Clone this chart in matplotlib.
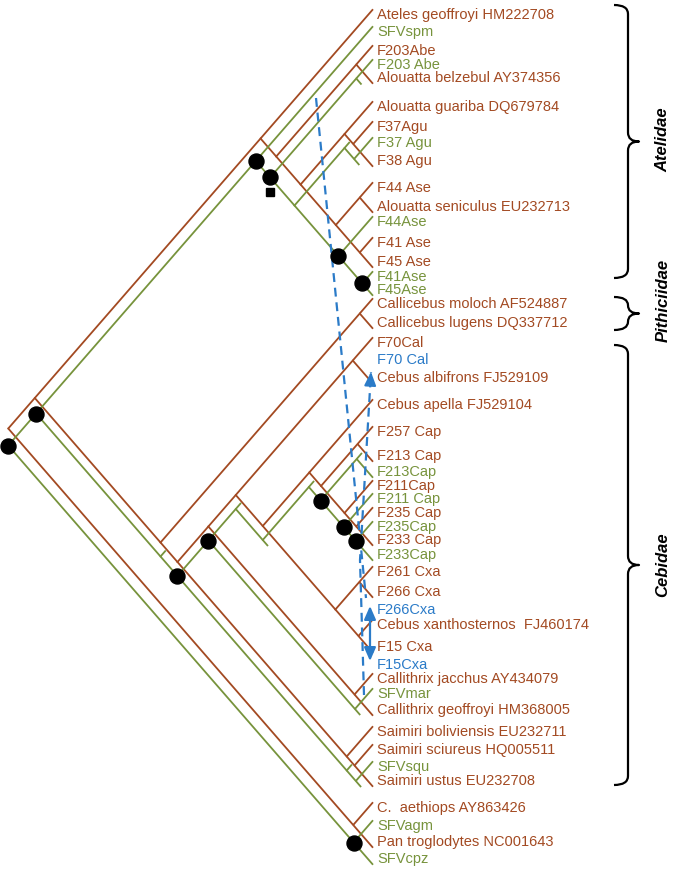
import matplotlib
matplotlib.use("Agg")
import matplotlib.pyplot as plt
from matplotlib.path import Path
from matplotlib.patches import PathPatch
from matplotlib import transforms
import numpy as np

plt.rcParams["font.family"] = ["Liberation Sans", "DejaVu Sans"]

# ---------------- data (rows, px from top) ----------------
host_labels = [
    "Ateles geoffroyi HM222708", "F203Abe", "Alouatta belzebul AY374356",
    "Alouatta guariba DQ679784", "F37Agu", "F38 Agu", "F44 Ase",
    "Alouatta seniculus EU232713", "F41 Ase", "F45 Ase",
    "Callicebus moloch AF524887", "Callicebus lugens DQ337712",
    "F70Cal", "Cebus albifrons FJ529109", "Cebus apella FJ529104",
    "F257 Cap", "F213 Cap", "F211Cap", "F235 Cap", "F233 Cap",
    "F261 Cxa", "F266 Cxa", "Cebus xanthosternos  FJ460174", "F15 Cxa",
    "Callithrix jacchus AY434079", "Callithrix geoffroyi HM368005",
    "Saimiri boliviensis EU232711", "Saimiri sciureus HQ005511",
    "Saimiri ustus EU232708", "C.  aethiops AY863426", "Pan troglodytes NC001643"]
host_rows = [15, 51, 78, 107, 127, 161, 188, 207, 243, 262,
             304, 323, 343, 378, 405, 432, 456, 486, 513, 540,
             572, 592, 625, 647, 679, 710, 732, 750, 781, 808, 842]

virus_labels = ["SFVspm", "F203 Abe", "F37 Agu", "F44Ase", "F41Ase", "F45Ase",
                "F213Cap", "F211 Cap", "F235Cap", "F233Cap", "SFVmar", "SFVsqu",
                "SFVagm", "SFVcpz"]
virus_rows = [32, 65, 143, 222, 277, 290, 472, 499, 527, 555, 694, 767, 826, 859]

recomb_labels = ["F70 Cal", "F266Cxa", "F15Cxa"]
recomb_rows = [360, 610, 665]

family_names = ["Atelidae", "Pithiciidae", "Cebidae"]
family_spans = [(5, 278), (297, 330), (345, 785)]
family_label_rows = [140, 300, 565]

(ATE, F203B, ABEL, AGUA, F37B, F38B, F44B, ASEN, F41B, F45B, CMOL, CLUG,
 F70B, CALB, CAPE, F257B, F213B, F211B, F235B, F233B, F261B, F266B, CXAN,
 F15B, CJAC, CGEO, SBOL, SSCI, SUST, CAET, PAN) = host_labels
(SPM, F203G, F37G, F44G, F41G, F45G, F213G, F211G, F235G, F233G,
 MAR, SQU, AGM, CPZ) = virus_labels


def stub(name):
    return "~" + name


host_tree = (
    ((ATE, ((F203B, ABEL), ((AGUA, (F37B, F38B)), ((F44B, ASEN), (F41B, F45B))))),
     ((CMOL, CLUG),
      ((((F70B, CALB),
         ((CAPE, ((F257B, F213B), (F211B, (F235B, F233B)))),
          ((F261B, F266B), (CXAN, F15B)))),
        (CJAC, CGEO)),
       (SBOL, (SSCI, SUST))))),
    (CAET, PAN))

virus_tree = (
    ((SPM, ((F203G, stub(ABEL)), ((stub(AGUA), (F37G, stub(F38B))), (F44G, (F41G, F45G))))),
     (stub(CMOL),
      (((stub(F70B),
         ((stub(CAPE), ((stub(F257B), F213G), (F211G, (F235G, F233G)))), stub(F15B))),
        (MAR, stub(CGEO))),
       (stub(SBOL), (SQU, stub(SUST)))))),
    (AGM, CPZ))

# virus nodes marked with a black dot (identified by first/last leaf)
dot_nodes = [(SPM, CPZ), (SPM, stub(SUST)), (SPM, F45G), (F203G, F45G),
             (F44G, F45G), (F41G, F45G), (stub(F70B), stub(SUST)),
             (stub(F70B), stub(CGEO)), (stub(F257B), F233G), (F211G, F233G),
             (F235G, F233G), (AGM, CPZ)]
square_node = (F203G, F45G)

# recombination annotations (dashed blue)
recomb_line_a = [(316, 98), (366, 598)]
recomb_line_b = [(364, 695), (360, 560), (371, 372)]
recomb_double = [(370, 606), (370, 661)]

# ---------------- style ----------------
BROWN = "#A34A22"
GREEN = "#77933C"
BLUE = "#2B7BC8"
LEAF_X = 368.0
SLOPE = 0.87
TIP_X = 373.0
STUB_SHIFT = 14
STUB_LEN = 8
LW = 1.3

host_y = dict(zip(host_labels, host_rows))
virus_y = dict(zip(virus_labels, virus_rows))


def host_pos(name):
    return host_y[name]


def virus_pos(name):
    if name.startswith("~"):
        return host_y[name[1:]] + STUB_SHIFT
    return virus_y[name]


def leaves(t):
    return [t] if isinstance(t, str) else leaves(t[0]) + leaves(t[1])


def node_xy(t, ypos):
    ys = [ypos(l) for l in leaves(t)]
    top, bot = min(ys), max(ys)
    return LEAF_X - SLOPE * (bot - top) / 2.0, (top + bot) / 2.0


def draw_tree(ax, t, ypos, color, nodes):
    px, py = node_xy(t, ypos)
    lv = leaves(t)
    nodes[(lv[0], lv[-1])] = (px, py)
    for c in t:
        cx, cy = node_xy(c, ypos)
        if isinstance(c, str):
            if c.startswith("~"):
                d = np.array([cx - px, cy - py])
                d = d / np.hypot(*d) * STUB_LEN
                ex, ey = px + d[0], py + d[1]
            else:
                f = (TIP_X - px) / (cx - px)
                ex, ey = px + (cx - px) * f, py + (cy - py) * f
            ax.plot([px, ex], [py, ey], color=color, lw=LW,
                    solid_capstyle="butt", zorder=2)
        else:
            ax.plot([px, cx], [py, cy], color=color, lw=LW,
                    solid_capstyle="round", zorder=2)
            draw_tree(ax, c, ypos, color, nodes)


def brace(ax, y0, y1, xb=628, hook=14, tip=11):
    r = min(9, (y1 - y0) / 4.0)
    ym = (y0 + y1) / 2.0
    verts = [(xb - hook, y0), (xb, y0), (xb, y0 + r),
             (xb, ym - r), (xb, ym), (xb + tip, ym),
             (xb, ym), (xb, ym + r),
             (xb, y1 - r), (xb, y1), (xb - hook, y1)]
    codes = [Path.MOVETO, Path.CURVE3, Path.CURVE3, Path.LINETO,
             Path.CURVE3, Path.CURVE3, Path.CURVE3, Path.CURVE3,
             Path.LINETO, Path.CURVE3, Path.CURVE3]
    ax.add_patch(PathPatch(Path(verts, codes), fill=False, lw=1.6,
                           edgecolor="black", joinstyle="round"))


fig = plt.figure(figsize=(6.81, 8.71), dpi=100)
ax = fig.add_axes([0, 0, 1, 1])
ax.set_xlim(0, 681)
ax.set_ylim(871, 0)
ax.axis("off")

host_nodes, virus_nodes = {}, {}
draw_tree(ax, host_tree, host_pos, BROWN, host_nodes)
draw_tree(ax, virus_tree, virus_pos, GREEN, virus_nodes)

for key in dot_nodes:
    x, y = virus_nodes[key]
    ax.plot(x, y, "o", color="black", ms=10.8, zorder=6)
sq_tr = transforms.offset_copy(ax.transData, fig=fig, x=0, y=-15, units="dots")
sx, sy = virus_nodes[square_node]
ax.plot(sx, sy, "s", color="black", ms=5.5, transform=sq_tr, zorder=6)

FS = 10.5
for lab, y in zip(host_labels, host_rows):
    ax.text(377, y, lab, color=BROWN, fontsize=FS, va="center", ha="left")
for lab, y in zip(virus_labels, virus_rows):
    ax.text(377, y, lab, color=GREEN, fontsize=FS, va="center", ha="left")
for lab, y in zip(recomb_labels, recomb_rows):
    ax.text(377, y, lab, color=BLUE, fontsize=FS, va="center", ha="left")

# recombination arrows
for line in (recomb_line_a, recomb_line_b):
    xs, ys = zip(*line)
    ax.plot(xs, ys, color=BLUE, lw=1.6, dashes=(4, 2.6), zorder=4)
(bx0, by0), (bx1, by1) = recomb_line_b[-2], recomb_line_b[-1]
u = np.array([bx1 - bx0, by1 - by0]); u = u / np.hypot(*u)
ax.annotate("", xy=(bx1, by1), xytext=(bx1 - u[0] * 3, by1 - u[1] * 3),
            arrowprops=dict(arrowstyle="-|>,head_length=0.8,head_width=0.35",
                            color=BLUE, lw=1.5, shrinkA=0, shrinkB=0), zorder=5)
ax.annotate("", xy=recomb_double[0], xytext=recomb_double[1],
            arrowprops=dict(arrowstyle="<|-|>,head_length=0.8,head_width=0.35",
                            color=BLUE, lw=1.6, shrinkA=0, shrinkB=0), zorder=5)

# family braces
for name, (y0, y1), ty in zip(family_names, family_spans, family_label_rows):
    brace(ax, y0, y1)
    ax.text(663, ty, name, rotation=90, ha="center", va="center", fontsize=12,
            fontweight="bold", fontstyle="italic", color="black")

fig.savefig("out.png", dpi=100)
